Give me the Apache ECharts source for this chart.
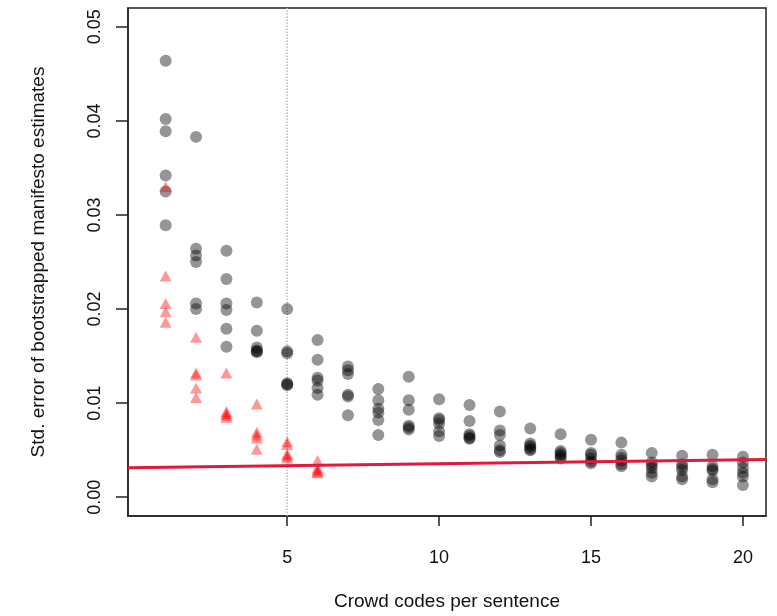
<!DOCTYPE html>
<html>
<head>
<meta charset="utf-8">
<script src="https://cdn.jsdelivr.net/npm/echarts@6/dist/echarts.min.js"></script>
<style>
  html, body { margin: 0; padding: 0; background: #fff; }
  #chart { width: 777px; height: 616px; }
</style>
</head>
<body>
<div id="chart"></div>
<script>
// crowd codes per sentence (x positions of each column)
var codesPerSentence = [1, 2, 3, 4, 5, 6, 7, 8, 9, 10, 11, 12, 13, 14, 15, 16, 17, 18, 19, 20];

// grey dots: std. error per manifesto, one list per x
var manifestoSE = [
  [0.0464, 0.0402, 0.0389, 0.0342, 0.0325, 0.0289],
  [0.0383, 0.0264, 0.0257, 0.0250, 0.0206, 0.0200],
  [0.0262, 0.0232, 0.0206, 0.0199, 0.0179, 0.0160],
  [0.0207, 0.0177, 0.0159, 0.0156, 0.0155, 0.0154],
  [0.0200, 0.0155, 0.0153, 0.0121, 0.0120, 0.0119],
  [0.0167, 0.0146, 0.0127, 0.0124, 0.0116, 0.0109],
  [0.0139, 0.0135, 0.0131, 0.0109, 0.0107, 0.0087],
  [0.0115, 0.0103, 0.0094, 0.0090, 0.0082, 0.0066],
  [0.0128, 0.0103, 0.0093, 0.0076, 0.0074, 0.0072],
  [0.0104, 0.0084, 0.0082, 0.0078, 0.0070, 0.0065],
  [0.0098, 0.0081, 0.0067, 0.0065, 0.0063, 0.0062],
  [0.0091, 0.0071, 0.0066, 0.0055, 0.0050, 0.0048],
  [0.0073, 0.0057, 0.0055, 0.0053, 0.0051, 0.0050],
  [0.0067, 0.0049, 0.0047, 0.0045, 0.0043, 0.0041],
  [0.0061, 0.0047, 0.0045, 0.0041, 0.0038, 0.0036],
  [0.0058, 0.0045, 0.0042, 0.0039, 0.0035, 0.0033],
  [0.0047, 0.0037, 0.0034, 0.0031, 0.0026, 0.0022],
  [0.0044, 0.0035, 0.0032, 0.0029, 0.0022, 0.0019],
  [0.0045, 0.0033, 0.0030, 0.0028, 0.0019, 0.0016],
  [0.0043, 0.0037, 0.0031, 0.0026, 0.0022, 0.0013]
];

// red triangles (only for 1..6 codes per sentence)
var triangleSE = [
  [0.0330, 0.0235, 0.0206, 0.0197, 0.0186],
  [0.0170, 0.0132, 0.0130, 0.0116, 0.0106],
  [0.0132, 0.0091, 0.0089, 0.0087, 0.0085],
  [0.0099, 0.0069, 0.0066, 0.0063, 0.0051],
  [0.0059, 0.0056, 0.0046, 0.0044, 0.0042],
  [0.0039, 0.0031, 0.0029, 0.0027, 0.0026]
];

// red reference line (value at left and right edge of plot)
var refLineX = [-0.24, 20.76];
var refLineY = [0.00314, 0.00401];

var xTicks = [5, 10, 15, 20];
var yTicks = [0, 0.01, 0.02, 0.03, 0.04, 0.05];

var greyPts = [];
manifestoSE.forEach(function (vals, i) {
  vals.forEach(function (v) { greyPts.push([codesPerSentence[i], v]); });
});
var redPts = [];
triangleSE.forEach(function (vals, i) {
  vals.forEach(function (v) { redPts.push([codesPerSentence[i], v]); });
});

var font = 'Liberation Sans, Arial, sans-serif';
var chart = echarts.init(document.getElementById('chart'));

chart.setOption({
  animation: false,
  backgroundColor: '#fff',
  grid: {
    left: 128, right: 11, top: 8, bottom: 97,
    show: true, borderColor: '#222', borderWidth: 1.5, backgroundColor: 'transparent'
  },
  xAxis: {
    type: 'value',
    min: -0.24, max: 20.76,
    splitLine: { show: false },
    axisLine: { show: true, onZero: false, lineStyle: { color: '#222', width: 1.5 } },
    axisTick: { show: true, customValues: xTicks, length: 10, lineStyle: { color: '#222', width: 1.5 } },
    axisLabel: { customValues: xTicks, margin: 33, fontSize: 18, color: '#111', fontFamily: font },
    name: 'Crowd codes per sentence',
    nameLocation: 'middle',
    nameGap: 76,
    nameTextStyle: { fontSize: 19, color: '#111', fontFamily: font }
  },
  yAxis: {
    type: 'value',
    min: -0.002, max: 0.052,
    splitLine: { show: false },
    axisLine: { show: true, onZero: false, lineStyle: { color: '#222', width: 1.5 } },
    axisTick: { show: true, customValues: yTicks, length: 12, lineStyle: { color: '#222', width: 1.5 } },
    axisLabel: {
      customValues: yTicks, rotate: 90, margin: 24, fontSize: 18, color: '#111', fontFamily: font,
      formatter: function (v) { return v.toFixed(2); }
    },
    name: 'Std. error of bootstrapped manifesto estimates',
    nameLocation: 'middle',
    nameGap: 80,
    nameTextStyle: { fontSize: 19, color: '#111', fontFamily: font }
  },
  series: [
    {
      type: 'line',
      data: [[5, -0.002], [5, 0.052]],
      symbol: 'none',
      lineStyle: { color: '#bdbdbd', width: 1.5, type: 'dotted' },
      z: 1
    },
    {
      type: 'scatter',
      data: greyPts,
      symbol: 'circle',
      symbolSize: 12,
      itemStyle: { color: 'rgba(0,0,0,0.52)' },
      z: 2
    },
    {
      type: 'scatter',
      data: redPts,
      symbol: 'triangle',
      symbolSize: [12, 11],
      itemStyle: { color: 'rgba(255,0,0,0.5)' },
      z: 3
    },
    {
      type: 'line',
      data: refLineX.map(function (x, i) { return [x, refLineY[i]]; }),
      symbol: 'none',
      lineStyle: { color: '#e11a3c', width: 3 },
      z: 4
    }
  ]
});
</script>
</body>
</html>
